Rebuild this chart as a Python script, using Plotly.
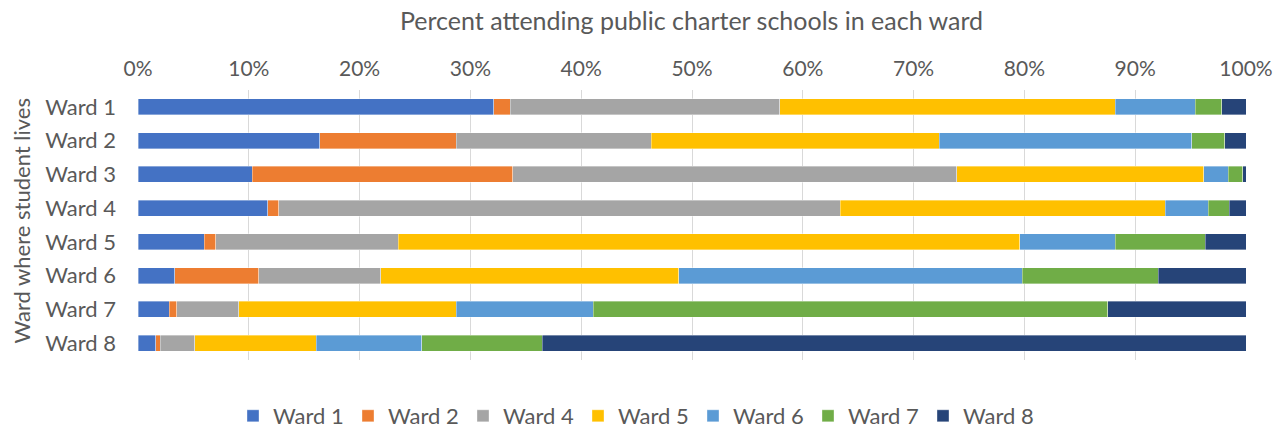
import plotly.graph_objects as go

categories = ["Ward 1", "Ward 2", "Ward 3", "Ward 4", "Ward 5", "Ward 6", "Ward 7", "Ward 8"]
series_names = ["Ward 1", "Ward 2", "Ward 4", "Ward 5", "Ward 6", "Ward 7", "Ward 8"]

ward1 = [32.1, 16.4, 10.3, 11.7, 6.0, 3.3, 2.8, 1.6]
ward2 = [1.5, 12.3, 23.5, 1.0, 1.0, 7.6, 0.7, 0.4]
ward4 = [24.3, 17.6, 40.1, 50.7, 16.5, 11.0, 5.6, 3.1]
ward5 = [30.3, 26.0, 22.3, 29.3, 56.1, 26.9, 19.6, 11.0]
ward6 = [7.2, 22.8, 2.2, 3.9, 8.6, 31.0, 12.4, 9.5]
ward7 = [2.4, 3.0, 1.3, 1.9, 8.1, 12.3, 46.4, 10.9]
ward8 = [2.2, 1.9, 0.3, 1.5, 3.7, 7.9, 12.5, 63.5]

tick_vals = [0, 10, 20, 30, 40, 50, 60, 70, 80, 90, 100]
tick_text = ["0%", "10%", "20%", "30%", "40%", "50%", "60%", "70%", "80%", "90%", "100%"]

colors = ["#4472C4", "#ED7D31", "#A5A5A5", "#FFC000", "#5B9BD5", "#70AD47", "#264478"]
all_series = [ward1, ward2, ward4, ward5, ward6, ward7, ward8]

FONT = "Lato"
TXT = "#595959"

W, H = 1284, 431
L, R, T, B = 138, 38, 90, 71
PW = W - L - R
PH = H - T - B

fig = go.Figure()
for name, vals, col in zip(series_names, all_series, colors):
    fig.add_trace(go.Bar(
        y=categories, x=vals, name=name, orientation="h",
        marker=dict(color=col, line=dict(color="rgba(255,255,255,0.6)", width=0.6)),
        width=0.47,
    ))

fig.update_layout(
    width=W, height=H,
    barmode="stack",
    plot_bgcolor="white", paper_bgcolor="white",
    margin=dict(l=L, r=R, t=T, b=B, autoexpand=False),
    font=dict(family=FONT, color=TXT, size=22),
    title=dict(text="Percent attending public charter schools in each ward",
               x=691.5 / W, xanchor="center", y=1 - 21 / H, yanchor="middle",
               font=dict(family=FONT, size=25, color=TXT)),
    xaxis=dict(side="top", range=[0, 100], tickvals=tick_vals, ticktext=tick_text,
               showgrid=True, gridcolor="#D9D9D9", gridwidth=1.3, zeroline=False,
               showline=False, ticks="", tickfont=dict(size=21, color=TXT),
               ticklabelstandoff=9, fixedrange=True),
    yaxis=dict(autorange="reversed", showgrid=False, zeroline=False, showline=False,
               ticks="", tickfont=dict(size=22, color=TXT), ticklabelstandoff=21,
               fixedrange=True),
    legend=dict(orientation="h", x=(233 - L) / PW, xanchor="left",
                y=-(416 - (T + PH)) / PH, yanchor="middle",
                font=dict(size=22, color=TXT), traceorder="normal",
                entrywidth=70, entrywidthmode="pixels", itemclick=False,
                tracegroupgap=0),
    annotations=[dict(text="Ward where student lives", textangle=-90,
                      x=(21 - L) / PW, xref="paper", xanchor="center",
                      y=((T + PH) - 221.5) / PH, yref="paper", yanchor="middle",
                      showarrow=False, font=dict(family=FONT, size=22, color=TXT))],
)

fig.write_html("out.html", config={"displayModeBar": False},
               post_script="document.body.style.margin='0';")
